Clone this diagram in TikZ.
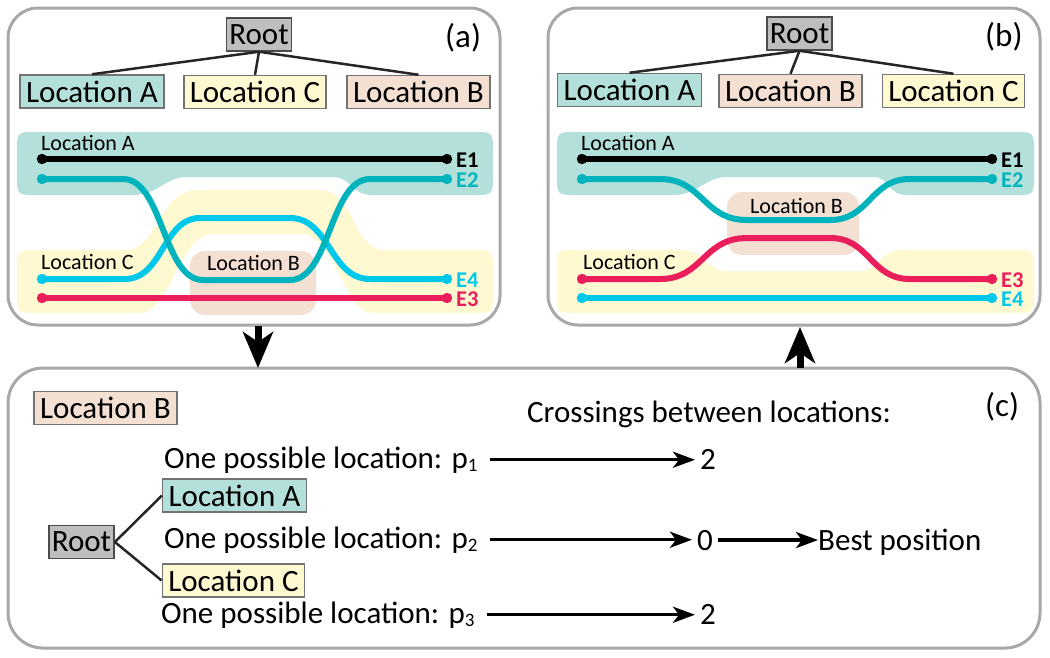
\documentclass[tikz,border=0pt]{standalone}
\usepackage{fontspec}
\setmainfont{Carlito}
\usetikzlibrary{arrows.meta}

\definecolor{tealfill}{HTML}{B3E0DA}
\definecolor{yellowfill}{HTML}{FFF9D2}
\definecolor{brownfill}{HTML}{F3E0D3}
\definecolor{rootfill}{HTML}{BEBEBE}
\definecolor{edgeteal}{HTML}{00B3BC}
\definecolor{edgecyan}{HTML}{00C8EB}
\definecolor{edgered}{HTML}{E91E5B}
\definecolor{panelgray}{HTML}{A8A8A8}

\newcommand{\subdigit}[1]{{\fontsize{19}{19}\selectfont\raisebox{-3pt}{#1}}}

\tikzset{
    panel/.style={draw=panelgray, line width=3pt, rounded corners=30pt},
    locbox/.style={draw=black!55, line width=1.5pt, minimum height=33pt,
        inner xsep=6pt, inner ysep=0pt, font=\fontsize{31}{31}\selectfont},
    rootbox/.style={locbox, fill=rootfill, draw=black!70, inner xsep=3pt},
    treeedge/.style={line width=2.5pt, draw=black!85},
    edgeline/.style={line width=6pt, {Circle[length=10pt]}-{Circle[length=10pt]}},
    lanelabel/.style={anchor=west, inner sep=0pt, font=\fontsize{22}{22}\selectfont},
    elabel/.style={anchor=west, inner sep=0pt, font=\fontsize{22.5}{22.5}\selectfont\bfseries},
    bigtext/.style={anchor=base west, inner sep=0pt, font=\fontsize{31}{31}\selectfont},
    numtext/.style={bigtext, inner xsep=5pt},
    paneltag/.style={anchor=base west, inner sep=0pt, font=\fontsize{33}{33}\selectfont},
    panelarrow/.style={line width=7pt, -{Stealth[length=36pt, width=30pt, inset=10pt]}},
    crossarrow/.style={line width=3.5pt, -{Stealth[length=22pt, width=16pt, inset=6pt]}},
}

\begin{document}
\begin{tikzpicture}[x=1pt,y=-1pt]

\useasboundingbox (0,0) rectangle (1050,657);

% Panel frames
\draw[panel] (8,8) rectangle (500,325);
\draw[panel] (548,8) rectangle (1040,325);
\draw[panel, rounded corners=35pt] (8,368) rectangle (1040,648);

% ---------------- Panel (a) ----------------
\node[rootbox] (aR) at (259,34.5) {Root};
\node[locbox, fill=tealfill] (aA) at (92,91.5) {Location A};
\node[locbox, fill=yellowfill] (aC) at (255,92) {Location C};
\node[locbox, fill=brownfill] (aB) at (418.5,92) {Location B};
\draw[treeedge] (aR.south) -- (aA.north);
\draw[treeedge] (aR.south) -- (aC.north);
\draw[treeedge] (aR.south) -- (aB.north);
\node[paneltag] (aTag) at (445,47) {(a)};

% Location regions
\fill[tealfill]
    (17,152) .. controls (17,132) .. (37,132) -- (473,132)
    .. controls (493,132) .. (493,152) -- (493,175)
    .. controls (493,195) .. (473,195) -- (373,195)
    .. controls (350,195) and (352,177) .. (333,177) -- (187,177)
    .. controls (165,177) and (158,195) .. (133,195) -- (37,195)
    .. controls (17,195) .. (17,175) -- cycle;
\fill[yellowfill]
    (17,270) .. controls (17,250) .. (37,250) -- (125,250)
    .. controls (158,250) and (160,190) .. (197,190) -- (320,190)
    .. controls (355,190) and (352,250) .. (385,250) -- (473,250)
    .. controls (493,250) .. (493,270) -- (493,293)
    .. controls (493,313) .. (473,313) -- (372,313)
    .. controls (345,313) and (335,234) .. (300,234) -- (212,234)
    .. controls (180,234) and (170,313) .. (140,313) -- (37,313)
    .. controls (17,313) .. (17,293) -- cycle;
\fill[brownfill, rounded corners=15pt] (190,251) rectangle (316,315);

% Entities
\draw[edgeline, draw=black] (37,159) -- (452,159);
\draw[edgeline, draw=edgecyan] (37,279) -- (125,279)
    .. controls (163,279) and (163,218) .. (200,218) -- (290,218)
    .. controls (330,218) and (330,279) .. (370,279) -- (452,279);
\draw[edgeline, draw=edgeteal] (37,179) -- (123,179)
    .. controls (163,179) and (163,280) .. (203,280) -- (290,280)
    .. controls (330,280) and (330,179) .. (370,179) -- (452,179);
\draw[edgeline, draw=edgered] (37,298) -- (452,298);

\node[lanelabel] (aLA) at (41,143) {Location A};
\node[lanelabel] (aLC) at (41,262) {Location C};
\node[lanelabel] (aLB) at (207,263) {Location B};
\node[elabel, text=black] (aE1) at (456,160) {E1};
\node[elabel, text=edgeteal] (aE2) at (456,180) {E2};
\node[elabel, text=edgecyan] (aE4) at (456,280) {E4};
\node[elabel, text=edgered] (aE3) at (456,299) {E3};

% ---------------- Panel (b) ----------------
\node[rootbox] (bR) at (799.5,33.5) {Root};
\node[locbox, fill=tealfill] (bA) at (629.5,90) {Location A};
\node[locbox, fill=brownfill] (bB) at (790.5,91) {Location B};
\node[locbox, fill=yellowfill] (bC) at (953.5,91) {Location C};
\draw[treeedge] (bR.south) -- (bA.north);
\draw[treeedge] (bR.south) -- (bB.north);
\draw[treeedge] (bR.south) -- (bC.north);
\node[paneltag] (bTag) at (985,46) {(b)};

% Location regions
\fill[tealfill]
    (557,152) .. controls (557,132) .. (577,132) -- (1014,132)
    .. controls (1034,132) .. (1034,152) -- (1034,175)
    .. controls (1034,195) .. (1014,195) -- (907,195)
    .. controls (887,195) and (890,177) .. (873,177) -- (727,177)
    .. controls (705,177) and (698,195) .. (673,195) -- (577,195)
    .. controls (557,195) .. (557,175) -- cycle;
\fill[yellowfill]
    (557,270) .. controls (557,250) .. (577,250) -- (683,250)
    .. controls (705,250) and (705,271) .. (727,271) -- (860,271)
    .. controls (880,271) and (880,250) .. (900,250) -- (1014,250)
    .. controls (1034,250) .. (1034,270) -- (1034,293)
    .. controls (1034,313) .. (1014,313) -- (577,313)
    .. controls (557,313) .. (557,293) -- cycle;
\fill[brownfill, rounded corners=15pt] (727,192) rectangle (859,255);

% Entities
\draw[edgeline, draw=black] (577,159) -- (997,159);
\draw[edgeline, draw=edgeteal] (577,179) -- (660,179)
    .. controls (703,179) and (703,220) .. (747,220) -- (830,220)
    .. controls (870,220) and (870,179) .. (910,179) -- (997,179);
\draw[edgeline, draw=edgered] (577,279) -- (660,279)
    .. controls (703,279) and (703,238) .. (747,238) -- (830,238)
    .. controls (870,238) and (870,279) .. (910,279) -- (997,279);
\draw[edgeline, draw=edgecyan] (577,298) -- (997,298);

\node[lanelabel] (bLA) at (581,143) {Location A};
\node[lanelabel] (bLC) at (583,262) {Location C};
\node[lanelabel] (bLB) at (750,206) {Location B};
\node[elabel, text=black] (bE1) at (1001,160) {E1};
\node[elabel, text=edgeteal] (bE2) at (1001,180) {E2};
\node[elabel, text=edgered] (bE3) at (1001,280) {E3};
\node[elabel, text=edgecyan] (bE4) at (1001,299) {E4};

% ---------------- Panel (c) ----------------
\node[locbox, fill=brownfill] (cB) at (105.5,408) {Location B};
\node[rootbox] (cR) at (81.5,542) {Root};
\node[locbox, fill=tealfill] (cA) at (234.5,495.5) {Location A};
\node[locbox, fill=yellowfill] (cC) at (233.5,580.5) {Location C};
\draw[treeedge] (cR.east) -- (cA.west);
\draw[treeedge] (cR.east) -- (cC.west);
\node[paneltag] (cTag) at (985,416) {(c)};

\node[bigtext] (cHead) at (527,422) {Crossings between locations:};
\node[bigtext] (p1) at (164,468) {One possible location: p\subdigit{1}};
\node[bigtext] (p2) at (164,548) {One possible location: p\subdigit{2}};
\node[bigtext] (p3) at (161,623) {One possible location: p\subdigit{3}};
\node[numtext] (n1) at (695,469) {2};
\node[numtext] (n2) at (692,550) {0};
\node[numtext] (n3) at (695,624) {2};
\node[bigtext] (best) at (818,550) {Best position};

% Crossing counts
\draw[crossarrow] ([xshift=12pt]p1.east) -- (p1.east -| n1.west);
\draw[crossarrow] ([xshift=12pt]p2.east) -- (p2.east -| n2.west);
\draw[crossarrow] ([xshift=12pt]p3.east) -- (p3.east -| n3.west);
\draw[crossarrow] (n2.east) -- (n2.east -| best.west);

% Flow between panels
\coordinate (aOut) at (258,326);
\coordinate (cIn) at (258,368);
\coordinate (cOut) at (800,368);
\coordinate (bIn) at (800,327);
\draw[panelarrow] (aOut) -- (cIn);
\draw[panelarrow] (cOut) -- (bIn);

\end{tikzpicture}
\end{document}
